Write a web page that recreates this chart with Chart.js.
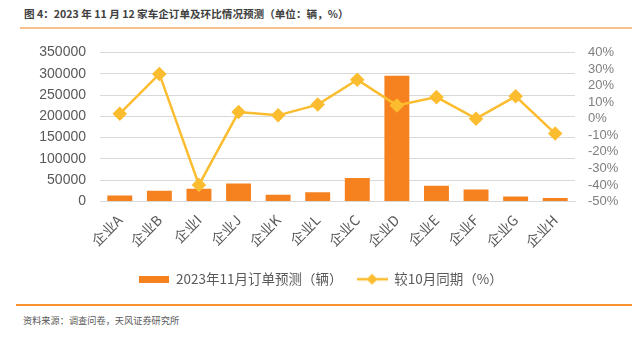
<!DOCTYPE html>
<html>
<head>
<meta charset="utf-8">
<script src="https://cdn.jsdelivr.net/npm/chart.js@4.4.0/dist/chart.umd.min.js"></script>
<style>
  html, body { margin: 0; padding: 0; background: #fff; }
  body { width: 641px; height: 337px; position: relative; overflow: hidden; font-family: "Noto Sans CJK SC", sans-serif; }
  #title { position: absolute; left: 24px; top: 6px; font-size: 10.6px; font-weight: bold; color: #404040; white-space: nowrap; }
  #topRule { position: absolute; left: 20px; top: 27px; width: 612px; height: 2px; background: #f9c08a; }
  #chartBox { position: absolute; left: 0; top: 30px; width: 641px; height: 272px; }
  #bottomRule { position: absolute; left: 16px; top: 304px; width: 616px; height: 2px; background: #f7932d; }
  #source { position: absolute; left: 23px; top: 313px; font-size: 9.2px; color: #595959; white-space: nowrap; }
</style>
</head>
<body>
<div id="title">图 4：2023 年 11 月 12 家车企订单及环比情况预测（单位：辆，%）</div>
<div id="topRule"></div>
<div id="chartBox"><canvas id="orderChart" width="641" height="272"></canvas></div>
<div id="bottomRule"></div>
<div id="source">资料来源：调查问卷，天风证券研究所</div>

<script>
// companies on the x axis
const companies = ['企业A', '企业B', '企业I', '企业J', '企业K', '企业L', '企业C', '企业D', '企业E', '企业F', '企业G', '企业H'];
// November 2023 order forecast (vehicles)
const novOrders = [14000, 25000, 30000, 42000, 16000, 22000, 55000, 295000, 37000, 28000, 12000, 8000];
// change vs. October (%)
const vsOctober = [3, 27, -40, 4, 2, 8.5, 23.5, 8, 13, 0, 13.5, -9];

const leftTicks = [0, 350000, 50000];   // min, max, step
const rightTicks = [-50, 40, 10];

const barColor = '#f5821f';
const lineColor = '#fbbd2f';

// small canvases used as legend icons
function barIcon() {
  const c = document.createElement('canvas');
  c.width = 30; c.height = 7;
  const g = c.getContext('2d');
  g.fillStyle = barColor;
  g.fillRect(0, 0, 30, 7);
  return c;
}
function lineIcon() {
  const c = document.createElement('canvas');
  c.width = 31; c.height = 12;
  const g = c.getContext('2d');
  g.strokeStyle = lineColor;
  g.lineWidth = 2.5;
  g.beginPath(); g.moveTo(0, 6); g.lineTo(31, 6); g.stroke();
  g.fillStyle = lineColor;
  g.beginPath();
  g.moveTo(15.5, 0.5); g.lineTo(21, 6); g.lineTo(15.5, 11.5); g.lineTo(10, 6);
  g.closePath(); g.fill();
  return c;
}
const legendIcons = [barIcon(), lineIcon()];

const ctx = document.getElementById('orderChart');

const orderChart = new Chart(ctx, {
  data: {
    labels: companies,
    datasets: [{
      type: 'line',
      label: '较10月同期（%）',
      data: vsOctober,
      yAxisID: 'yRight',
      borderColor: lineColor,
      backgroundColor: lineColor,
      borderWidth: 2.5,
      pointStyle: 'rectRot',
      pointRadius: 5.5,
      pointHoverRadius: 5.5,
      tension: 0,
      order: 0
    }, {
      type: 'bar',
      label: '2023年11月订单预测（辆）',
      data: novOrders,
      yAxisID: 'yLeft',
      backgroundColor: barColor,
      categoryPercentage: 1,
      barPercentage: 0.63,
      order: 1
    }]
  },
  options: {
    responsive: false,
    animation: false,
    layout: { padding: { top: 0, left: 0, right: 0, bottom: 6 } },
    plugins: {
      tooltip: { enabled: false },
      legend: {
        position: 'bottom',
        labels: {
          usePointStyle: true,
          pointStyleWidth: 31,
          padding: 14,
          color: '#595959',
          font: { family: '"Noto Sans CJK SC", sans-serif', size: 13.5 },
          generateLabels: function (chart) {
            // bar first, then line
            return [1, 0].map(i => ({
              text: chart.data.datasets[i].label,
              pointStyle: legendIcons[i === 1 ? 0 : 1],
              fillStyle: 'transparent',
              strokeStyle: 'transparent',
              lineWidth: 0,
              datasetIndex: i,
              hidden: false,
              fontColor: '#595959'
            }));
          }
        }
      }
    },
    scales: {
      x: {
        grid: { display: false },
        border: { display: true, color: '#d9d9d9', width: 1 },
        ticks: {
          color: '#595959',
          font: { family: '"Noto Sans CJK SC", sans-serif', size: 14 },
          minRotation: 45,
          maxRotation: 45,
          autoSkip: false,
          padding: 2
        },
        afterFit: function (scale) { scale.height = 57; }
      },
      yLeft: {
        position: 'left',
        min: leftTicks[0],
        max: leftTicks[1],
        grid: { color: '#d9d9d9', drawTicks: false },
        border: { display: false },
        ticks: {
          stepSize: leftTicks[2],
          autoSkip: false,
          color: '#595959',
          padding: 14,
          font: { family: '"Liberation Sans", Arial, sans-serif', size: 14 },
          callback: v => String(v)
        },
        afterFit: function (scale) { scale.width = 100; }
      },
      yRight: {
        position: 'right',
        min: rightTicks[0],
        max: rightTicks[1],
        grid: { drawOnChartArea: false, drawTicks: false },
        border: { display: false },
        ticks: {
          stepSize: rightTicks[2],
          autoSkip: false,
          color: '#7f7f7f',
          padding: 13,
          font: { family: '"Liberation Sans", sans-serif', size: 13 },
          callback: v => v + '%'
        },
        afterFit: function (scale) { scale.width = 66; }
      }
    }
  }
});
</script>
</body>
</html>
